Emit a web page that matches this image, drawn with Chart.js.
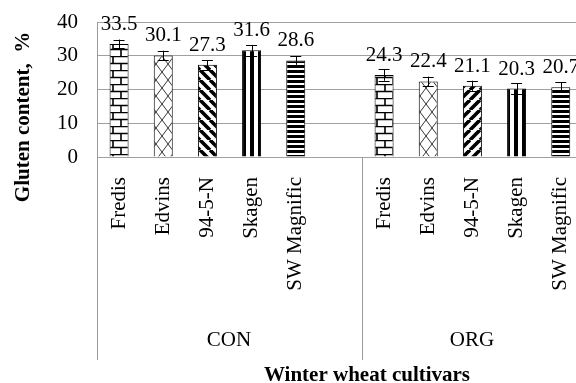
<!DOCTYPE html>
<html><head><meta charset="utf-8">
<script src="https://cdn.jsdelivr.net/npm/chart.js@4.4.1/dist/chart.umd.min.js"></script>
<style>html,body{margin:0;padding:0;overflow:hidden;background:#fff;width:576px;height:383px}canvas{display:block}</style>
</head><body>
<canvas id="c" width="640" height="383"></canvas>
<script>
const categories = ['Fredis','Edvins','94-5-N','Skagen','SW Magnific',''];
const groups = ['CON','ORG'];
const conValues = [33.5, 30.1, 27.3, 31.6, 28.6, null];
const orgValues = [24.3, 22.4, 21.1, 20.3, 20.7, null];
const conErrors = [1.3, 1.4, 1.4, 1.6, 1.3, null];
const orgErrors = [1.7, 1.4, 1.5, 1.5, 1.5, null];
const yTicks = [0, 10, 20, 30, 40];

const labels = categories.concat(categories);
const values = conValues.concat(orgValues);
const errors = conErrors.concat(orgErrors);

const FONT = "'Liberation Serif', 'Times New Roman', serif";

function mk(w, h, draw) {
  const c = document.createElement('canvas');
  c.width = w; c.height = h;
  const g = c.getContext('2d');
  g.fillStyle = '#fff'; g.fillRect(0, 0, w, h);
  g.strokeStyle = '#000'; g.fillStyle = '#000';
  draw(g);
  return g.createPattern(c, 'repeat');
}
const brick = mk(16, 14, g => {
  g.lineWidth = 1.6;
  g.beginPath();
  g.moveTo(0, 0.5); g.lineTo(16, 0.5);
  g.moveTo(0, 7.5); g.lineTo(16, 7.5);
  g.moveTo(1, 0); g.lineTo(1, 7);
  g.moveTo(9, 7); g.lineTo(9, 14);
  g.stroke();
});
const lattice = mk(12, 16, g => {
  g.lineWidth = 1;
  g.strokeStyle = '#333';
  g.beginPath();
  g.moveTo(0, 0); g.lineTo(12, 16);
  g.moveTo(12, 0); g.lineTo(0, 16);
  g.stroke();
});
function diag(dir) {
  return mk(10, 10, g => {
    g.lineWidth = 3.6;
    g.beginPath();
    for (let k = -2; k <= 2; k++) {
      if (dir > 0) { g.moveTo(k * 10, 0); g.lineTo(k * 10 + 10, 10); }
      else { g.moveTo(k * 10 + 10, 0); g.lineTo(k * 10, 10); }
    }
    g.stroke();
  });
}
const vstripe = mk(8, 8, g => { g.fillRect(2, 0, 4, 8); });
const hstripe = mk(8, 5, g => { g.fillRect(0, 0, 8, 3); });
const patterns = [brick, lattice, diag(1), vstripe, hstripe, '#fff',
                  brick, lattice, diag(-1), vstripe, hstripe, '#fff'];

const overlay = {
  id: 'overlay',
  afterDatasetsDraw(chart) {
    const c = chart.ctx, y = chart.scales.y, x = chart.scales.x;
    const meta = chart.getDatasetMeta(0);
    c.save();
    values.forEach((v, i) => {
      if (v == null) return;
      const bx = meta.data[i].x;
      const e = errors[i];
      const yt = y.getPixelForValue(v + e), yb = y.getPixelForValue(v - e);
      c.strokeStyle = '#000'; c.lineWidth = 1;
      c.beginPath();
      c.moveTo(Math.round(bx) + 0.5, yt); c.lineTo(Math.round(bx) + 0.5, yb);
      c.moveTo(bx - 5.5, Math.round(yt) + 0.5); c.lineTo(bx + 5.5, Math.round(yt) + 0.5);
      c.moveTo(bx - 5.5, Math.round(yb) + 0.5); c.lineTo(bx + 5.5, Math.round(yb) + 0.5);
      c.stroke();
      c.fillStyle = '#000';
      c.font = '21px ' + FONT;
      c.textAlign = 'center'; c.textBaseline = 'bottom';
      c.fillText(v.toFixed(1), bx, y.getPixelForValue(v) - 9);
    });
    c.strokeStyle = '#9a9a9a'; c.lineWidth = 1;
    const left = chart.chartArea.left;
    const mid = (x.getPixelForValue(5) + x.getPixelForValue(6)) / 2;
    c.beginPath();
    c.moveTo(Math.round(left) + 0.5, chart.chartArea.top); c.lineTo(Math.round(left) + 0.5, 360);
    c.moveTo(Math.round(mid) + 0.5, chart.chartArea.bottom); c.lineTo(Math.round(mid) + 0.5, 360);
    c.stroke();
    c.fillStyle = '#000';
    c.font = '21px ' + FONT;
    c.textAlign = 'center'; c.textBaseline = 'middle';
    c.fillText(groups[0], 229, 340);
    c.fillText(groups[1], 472, 340);
    c.font = 'bold 21px ' + FONT;
    c.fillText('Winter wheat cultivars', 367, 376);
    c.translate(24, 117);
    c.rotate(-Math.PI / 2);
    c.fillText('Gluten content,  %', 0, 0);
    c.restore();
  }
};

new Chart(document.getElementById('c'), {
  type: 'bar',
  data: {
    labels: labels,
    datasets: [{
      data: values,
      backgroundColor: patterns,
      borderColor: '#000',
      borderWidth: 1,
      borderSkipped: 'bottom',
      barPercentage: 0.43,
      categoryPercentage: 1
    }]
  },
  options: {
    responsive: false,
    animation: false,
    devicePixelRatio: 1,
    layout: { padding: { top: 22, right: 13, left: 0, bottom: 0 } },
    plugins: { legend: { display: false }, tooltip: { enabled: false } },
    scales: {
      x: {
        grid: { display: false, drawTicks: false },
        border: { display: false },
        ticks: {
          autoSkip: false, maxRotation: 90, minRotation: 90, padding: 20,
          color: '#000', font: { family: FONT, size: 21 }
        },
        afterFit(s) { s.height = 226; s.paddingLeft = 0; s.paddingRight = 0; }
      },
      y: {
        min: 0, max: 40,
        afterBuildTicks(s) { s.ticks = yTicks.map(v => ({ value: v })); },
        grid: { color: '#a0a0a0', drawTicks: false, lineWidth: 1 },
        border: { display: false },
        ticks: { padding: 19, color: '#000', font: { family: FONT, size: 21 } },
        afterFit(s) { s.width = 97; s.paddingTop = 0; s.paddingBottom = 0; }
      }
    }
  },
  plugins: [overlay]
});
</script>
</body></html>
